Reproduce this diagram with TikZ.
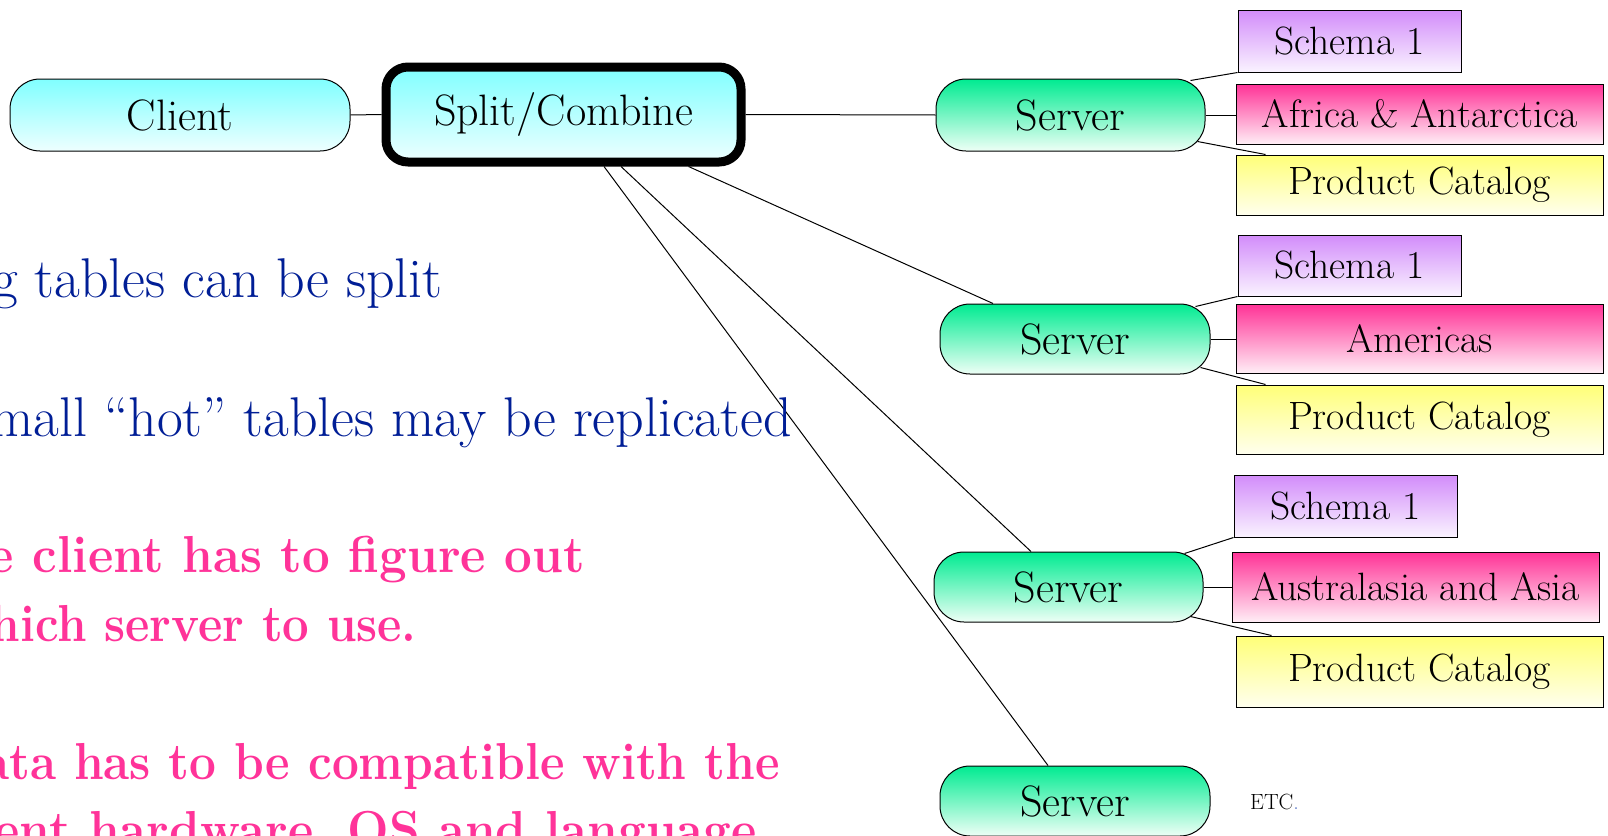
\documentclass[tikz,border=0pt]{standalone}
\usetikzlibrary{calc,backgrounds}
\definecolor{cyanTop}{RGB}{128,255,255}
\definecolor{cyanBot}{RGB}{238,255,255}
\definecolor{srvTop}{RGB}{0,235,145}
\definecolor{srvBot}{RGB}{238,255,246}
\definecolor{schTop}{RGB}{210,140,250}
\definecolor{schBot}{RGB}{250,243,255}
\definecolor{regTop}{RGB}{255,50,150}
\definecolor{regBot}{RGB}{255,238,246}
\definecolor{pcTop}{RGB}{255,255,120}
\definecolor{pcBot}{RGB}{255,255,238}
\definecolor{blueTxt}{RGB}{0,30,150}
\definecolor{pinkTxt}{RGB}{255,51,153}
\definecolor{etcBlue}{RGB}{90,120,200}
\tikzset{
  box/.style={draw=black, line width=1pt, inner sep=0pt, font=\fontsize{39.5}{46}\selectfont},
  rnd/.style={box, rounded corners=30pt, font=\fontsize{44}{50}\selectfont},
  clientbox/.style={rnd, top color=cyanTop, bottom color=cyanBot},
  splitbox/.style={rnd, line width=9pt, rounded corners=22pt, top color=cyanTop, bottom color=cyanBot},
  srvbox/.style={rnd, top color=srvTop, bottom color=srvBot},
  schbox/.style={box, top color=schTop, bottom color=schBot, minimum width=223pt},
  regbox/.style={box, top color=regTop, bottom color=regBot, minimum width=367pt},
  pcbox/.style={box, top color=pcTop, bottom color=pcBot, minimum width=367pt},
  link/.style={draw=black, line width=1pt},
  bluetext/.style={inner sep=0pt, anchor=base east, text=blueTxt, font=\fontsize{56}{64}\selectfont},
  pinktext/.style={inner sep=0pt, anchor=base east, text=pinkTxt, font=\fontsize{52}{60}\selectfont\bfseries},
}
\begin{document}
\begin{tikzpicture}[x=1pt,y=-1pt]
\useasboundingbox (0,0) rectangle (1608,835);

% nodes
\node[clientbox, minimum width=340pt, minimum height=72pt] (client) at (180,115) {Client};
\node[splitbox, minimum width=355pt, minimum height=95pt] (split) at (563.5,114.5) {Split/Combine};

\node[srvbox, minimum width=269pt, minimum height=72pt] (srv1) at (1070.5,115) {Server};
\node[schbox, minimum height=62pt] (sch1) at (1349.5,41) {Schema 1};
\node[regbox, minimum height=60pt] (reg1) at (1419.5,114) {Africa \& Antarctica};
\node[pcbox, minimum height=60pt] (pc1) at (1419.5,185) {Product Catalog};

\node[srvbox, minimum width=270pt, minimum height=70pt] (srv2) at (1075,339) {Server};
\node[schbox, minimum height=61pt] (sch2) at (1349.5,265.5) {Schema 1};
\node[regbox, minimum height=69pt] (reg2) at (1419.5,338.5) {Americas};
\node[pcbox, minimum height=69pt] (pc2) at (1419.5,419.5) {Product Catalog};

\node[srvbox, minimum width=269pt, minimum height=70pt] (srv3) at (1068.5,587) {Server};
\node[schbox, minimum height=62pt] (sch3) at (1345.5,506) {Schema 1};
\node[regbox, minimum height=70pt] (reg3) at (1415.5,587) {Australasia and Asia};
\node[pcbox, minimum height=71pt] (pc3) at (1419.5,671.5) {Product Catalog};

\node[srvbox, minimum width=270pt, minimum height=70pt] (srv4) at (1075,801) {Server};
\node[inner sep=0pt, anchor=base west, font=\fontsize{22}{26}\selectfont] (etc) at (1250,809) {ETC\textcolor{etcBlue}{.}};

% connectors behind the nodes
\begin{scope}[on background layer]
  \fill[white] (0,0) rectangle (1608,835);
  \path[link] (client.east) -- (split.west);
  \path[link] (split.east) -- (srv1.west);
  \path[link] ($(split.south)+(125,0)$) -- ($(srv2.north)+(-82,0)$);
  \path[link] ($(split.south)+(57.5,0)$) -- ($(srv3.north)+(-37.5,0)$);
  \path[link] ($(split.south)+(40.5,0)$) -- ($(srv4.north)+(-27,0)$);

  \path[link] ($(srv1.north east)+(-15,2)$) -- (sch1.south west);
  \path[link] (srv1.east) -- (srv1.east -| reg1.west);
  \path[link] ($(srv1.south east)+(-8,-10)$) -- ($(pc1.north west)+(30,0)$);

  \path[link] ($(srv2.north east)+(-15,3)$) -- (sch2.south west);
  \path[link] (srv2.east) -- (srv2.east -| reg2.west);
  \path[link] ($(srv2.south east)+(-10,-7)$) -- ($(pc2.north west)+(30,0)$);

  \path[link] ($(srv3.north east)+(-19,2)$) -- (sch3.south west);
  \path[link] (srv3.east) -- (srv3.east -| reg3.west);
  \path[link] ($(srv3.south east)+(-13,-6)$) -- ($(pc3.north west)+(36,0)$);
\end{scope}

% left-hand text, cut by the picture's left and bottom edges
\begin{scope}
  \clip (0,0) rectangle (1608,835);
  \node[bluetext] (t1) at (443,297) {g tables can be split};
  \node[bluetext] (t2) at (792,436) {mall “hot” tables may be replicated};
  \node[pinktext] (t3) at (585,572) {\scalebox{0.948}[1]{e client has to figure out}};
  \node[pinktext] (t4) at (417,641) {\scalebox{0.91}[1]{hich server to use.}};
  \node[pinktext] (t5) at (780,779) {\scalebox{0.917}[1]{ata has to be compatible with the}};
  \node[pinktext] (t6) at (757,847) {\scalebox{0.947}[1]{ent hardware, OS and language}};
\end{scope}
\end{tikzpicture}
\end{document}
